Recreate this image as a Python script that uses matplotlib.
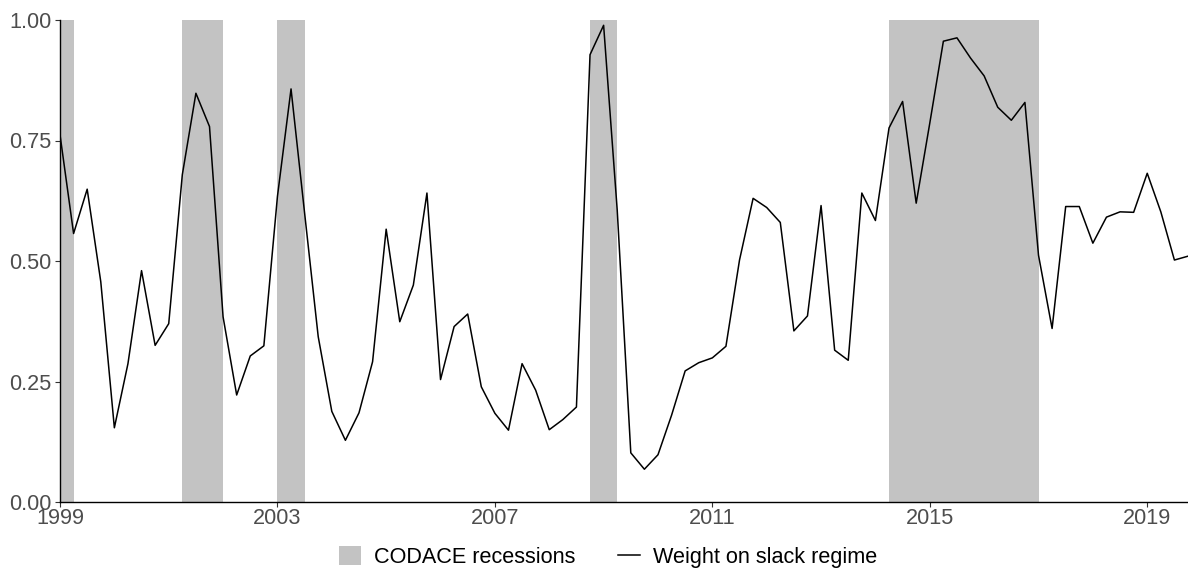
import numpy as np
import matplotlib
matplotlib.use("Agg")
from matplotlib import pyplot as plt
from matplotlib.patches import Patch
from matplotlib.lines import Line2D

plt.rcParams['font.family'] = ['Liberation Sans', 'DejaVu Sans']

# Quarterly weight on the slack regime, 1999Q1 - 2019Q4
weight = [
    0.762, 0.557, 0.649, 0.457,  # 1999
    0.154, 0.287, 0.480, 0.325,  # 2000
    0.370, 0.679, 0.848, 0.779,  # 2001
    0.384, 0.222, 0.303, 0.324,  # 2002
    0.634, 0.857, 0.599, 0.343,  # 2003
    0.188, 0.128, 0.185, 0.291,  # 2004
    0.566, 0.374, 0.450, 0.641,  # 2005
    0.254, 0.364, 0.390, 0.239,  # 2006
    0.184, 0.149, 0.287, 0.232,  # 2007
    0.150, 0.171, 0.197, 0.928,  # 2008
    0.989, 0.606, 0.102, 0.068,  # 2009
    0.098, 0.180, 0.272, 0.289,  # 2010
    0.299, 0.323, 0.502, 0.630,  # 2011
    0.611, 0.580, 0.355, 0.386,  # 2012
    0.615, 0.315, 0.294, 0.641,  # 2013
    0.584, 0.776, 0.831, 0.620,  # 2014
    0.786, 0.956, 0.963, 0.921,  # 2015
    0.884, 0.819, 0.792, 0.829,  # 2016
    0.512, 0.360, 0.613, 0.613,  # 2017
    0.537, 0.591, 0.602, 0.601,  # 2018
    0.682, 0.602, 0.502, 0.510,  # 2019
]
dates = 1999 + np.arange(len(weight)) / 4.0

# CODACE recession periods (start, end) in fractional years
rec_start = [1999.0, 2001.25, 2003.0, 2008.75, 2014.25]
rec_end = [1999.25, 2002.0, 2003.5, 2009.25, 2017.0]

year_ticks = [1999, 2003, 2007, 2011, 2015, 2019]
y_ticks = [0.0, 0.25, 0.5, 0.75, 1.0]

fig = plt.figure(figsize=(11.88, 5.69), dpi=100)
ax = fig.add_axes([60 / 1188, 67 / 569, 1128 / 1188, 482 / 569])

rec_color = '#C3C3C3'
for s, e in zip(rec_start, rec_end):
    ax.axvspan(s, e, color=rec_color, lw=0, zorder=1)

ax.plot(dates, weight, color='black', lw=1.1, zorder=3)

ax.set_xlim(1999, dates[-1])
ax.set_ylim(0, 1)
ax.set_xticks(year_ticks)
ax.set_yticks(y_ticks)
ax.set_yticklabels(['%.2f' % v for v in y_ticks])

for side in ['top', 'right']:
    ax.spines[side].set_visible(False)
for side in ['left', 'bottom']:
    ax.spines[side].set_linewidth(1.0)
    ax.spines[side].set_color('black')
ax.tick_params(axis='both', length=3.5, width=0.8, color='#333333',
               labelsize=15.6, labelcolor='#4D4D4D')
ax.tick_params(axis='x', pad=1.0)
ax.tick_params(axis='y', pad=2.5)

handles = [Patch(facecolor=rec_color, edgecolor='none'),
           Line2D([0], [0], color='black', lw=1.1)]
fig.legend(handles, ['CODACE recessions', 'Weight on slack regime'],
           loc='center', bbox_to_anchor=(608 / 1188, 1 - 557 / 569), ncol=2,
           frameon=False, fontsize=15.6, handlelength=1.0, handleheight=1.0,
           handletextpad=0.6, columnspacing=2.0, borderpad=0)

fig.savefig('out.png', dpi=100)
